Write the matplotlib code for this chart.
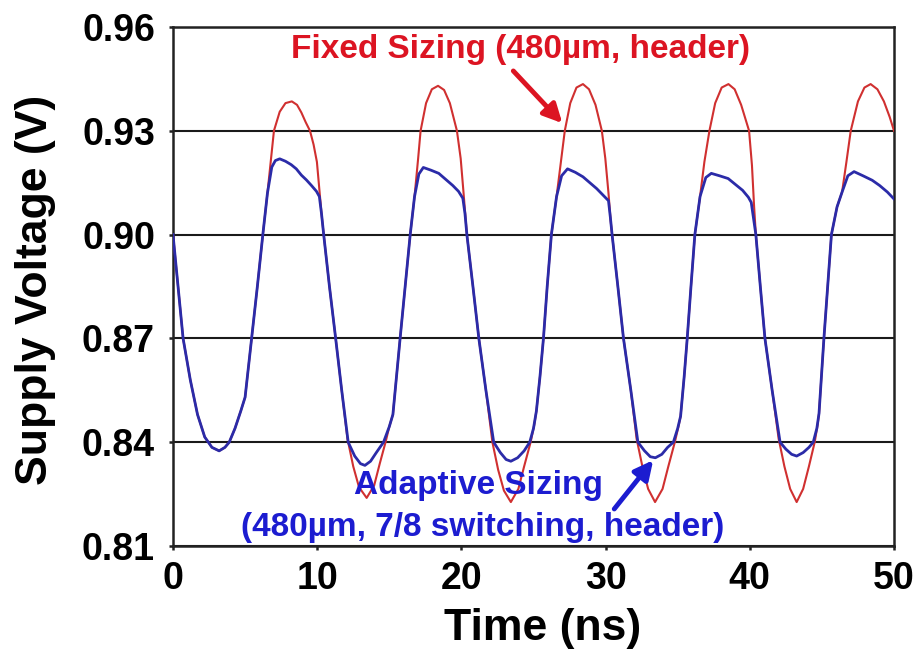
import matplotlib
matplotlib.use("Agg")
import matplotlib.pyplot as plt

# ---- data ----
time_blue = [0.00, 0.35, 0.70, 1.20, 1.70, 2.20, 2.70, 3.20, 3.60, 3.90, 4.30, 4.70, 5.00, 5.45, 5.85, 6.23,
             6.55, 6.85, 7.10, 7.40, 7.80, 8.20, 8.55, 8.90, 9.25, 9.60, 9.95, 10.15, 10.30, 10.45, 10.85,
             11.28, 11.70, 12.15, 12.60, 13.00, 13.31, 13.70, 14.10, 14.60, 15.00, 15.25, 15.50, 15.75,
             16.10, 16.45, 16.75, 17.05, 17.36, 17.90, 18.43, 18.90, 19.40, 19.80, 20.10, 20.25, 20.38,
             20.80, 21.21, 21.70, 22.24, 22.70, 23.10, 23.43, 23.90, 24.35, 24.74, 25.00, 25.20, 25.45,
             25.69, 25.95, 26.24, 26.60, 26.95, 27.36, 27.90, 28.43, 28.90, 29.38, 29.80, 30.20, 30.33,
             30.45, 30.85, 31.24, 31.75, 32.24, 32.70, 33.10, 33.45, 33.90, 34.30, 34.70, 35.00, 35.20,
             35.45, 35.66, 35.92, 36.19, 36.55, 36.95, 37.33, 37.90, 38.50, 39.00, 39.50, 39.90, 40.10,
             40.25, 40.42, 40.73, 41.05, 41.55, 42.10, 42.50, 42.90, 43.25, 43.70, 44.10, 44.40, 44.65,
             44.80, 44.97, 45.14, 45.40, 45.66, 46.05, 46.40, 46.80, 47.23, 47.85, 48.49, 49.00, 49.54,
             50.00]
volt_blue = [0.9000, 0.8850, 0.8700, 0.8580, 0.8480, 0.8415, 0.8385, 0.8375, 0.8385, 0.8400, 0.8440, 0.8490,
             0.8530, 0.8700, 0.8850, 0.9000, 0.9120, 0.9195, 0.9214, 0.9219, 0.9212, 0.9202, 0.9190, 0.9172,
             0.9158, 0.9142, 0.9125, 0.9110, 0.9060, 0.9000, 0.8850, 0.8700, 0.8550, 0.8400, 0.8360, 0.8338,
             0.8333, 0.8345, 0.8370, 0.8400, 0.8445, 0.8480, 0.8590, 0.8700, 0.8850, 0.9000, 0.9110, 0.9175,
             0.9194, 0.9186, 0.9177, 0.9160, 0.9142, 0.9125, 0.9105, 0.9060, 0.9000, 0.8850, 0.8700, 0.8550,
             0.8400, 0.8370, 0.8350, 0.8345, 0.8355, 0.8375, 0.8400, 0.8440, 0.8490, 0.8590, 0.8700, 0.8850,
             0.9000, 0.9110, 0.9170, 0.9190, 0.9180, 0.9167, 0.9150, 0.9133, 0.9115, 0.9098, 0.9050, 0.9000,
             0.8850, 0.8700, 0.8550, 0.8400, 0.8375, 0.8358, 0.8355, 0.8365, 0.8385, 0.8400, 0.8440, 0.8475,
             0.8590, 0.8700, 0.8850, 0.9000, 0.9110, 0.9165, 0.9177, 0.9170, 0.9162, 0.9145, 0.9128, 0.9108,
             0.9093, 0.9050, 0.9000, 0.8850, 0.8700, 0.8550, 0.8400, 0.8380, 0.8365, 0.8360, 0.8370, 0.8385,
             0.8400, 0.8440, 0.8483, 0.8590, 0.8700, 0.8850, 0.9000, 0.9080, 0.9123, 0.9170, 0.9182, 0.9170,
             0.9157, 0.9142, 0.9123, 0.9103]

time_red = [0.00, 0.35, 0.70, 1.20, 1.70, 2.20, 2.70, 3.20, 3.60, 3.90, 4.30, 4.70, 5.00, 5.45, 5.85, 6.23,
            6.55, 6.80, 7.00, 7.40, 7.80, 8.24, 8.60, 8.90, 9.20, 9.50, 9.75, 9.98, 10.15, 10.30, 10.45,
            10.85, 11.28, 11.70, 12.10, 12.50, 12.90, 13.43, 13.95, 14.35, 14.74, 15.00, 15.25, 15.50,
            15.75, 16.10, 16.45, 16.75, 17.00, 17.17, 17.55, 17.95, 18.38, 18.80, 19.20, 19.69, 19.95,
            20.15, 20.30, 20.38, 20.80, 21.21, 21.70, 22.15, 22.55, 22.95, 23.43, 23.95, 24.35, 24.80,
            25.05, 25.20, 25.45, 25.69, 25.95, 26.24, 26.60, 26.90, 27.17, 27.55, 27.98, 28.43, 28.85,
            29.30, 29.74, 29.98, 30.20, 30.35, 30.45, 30.85, 31.24, 31.75, 32.15, 32.55, 32.95, 33.43,
            33.95, 34.35, 34.80, 35.05, 35.20, 35.45, 35.66, 35.92, 36.19, 36.55, 36.85, 37.20, 37.60,
            38.05, 38.52, 38.95, 39.40, 39.95, 40.15, 40.30, 40.42, 40.73, 41.05, 41.55, 42.00, 42.40,
            42.80, 43.25, 43.70, 44.10, 44.50, 44.70, 44.80, 44.97, 45.14, 45.40, 45.66, 46.05, 46.40,
            46.70, 47.00, 47.50, 47.95, 48.38, 48.85, 49.30, 49.70, 50.00]
volt_red = [0.9000, 0.8850, 0.8700, 0.8580, 0.8480, 0.8415, 0.8385, 0.8375, 0.8385, 0.8400, 0.8440, 0.8490,
            0.8530, 0.8700, 0.8850, 0.9000, 0.9120, 0.9220, 0.9300, 0.9355, 0.9380, 0.9385, 0.9375, 0.9353,
            0.9325, 0.9300, 0.9260, 0.9210, 0.9130, 0.9060, 0.9000, 0.8850, 0.8700, 0.8550, 0.8410, 0.8330,
            0.8270, 0.8239, 0.8275, 0.8340, 0.8400, 0.8445, 0.8480, 0.8590, 0.8700, 0.8850, 0.9000, 0.9110,
            0.9220, 0.9300, 0.9380, 0.9420, 0.9430, 0.9418, 0.9380, 0.9300, 0.9220, 0.9120, 0.9040, 0.9000,
            0.8850, 0.8700, 0.8550, 0.8400, 0.8320, 0.8260, 0.8227, 0.8265, 0.8330, 0.8400, 0.8450, 0.8490,
            0.8590, 0.8700, 0.8850, 0.9000, 0.9110, 0.9210, 0.9300, 0.9380, 0.9425, 0.9435, 0.9420, 0.9375,
            0.9300, 0.9220, 0.9120, 0.9040, 0.9000, 0.8850, 0.8700, 0.8550, 0.8410, 0.8330, 0.8265, 0.8227,
            0.8265, 0.8330, 0.8400, 0.8445, 0.8475, 0.8590, 0.8700, 0.8850, 0.9000, 0.9110, 0.9210, 0.9300,
            0.9380, 0.9425, 0.9435, 0.9420, 0.9375, 0.9300, 0.9200, 0.9080, 0.9000, 0.8850, 0.8700, 0.8550,
            0.8410, 0.8330, 0.8265, 0.8227, 0.8265, 0.8330, 0.8400, 0.8450, 0.8483, 0.8590, 0.8700, 0.8850,
            0.9000, 0.9080, 0.9123, 0.9210, 0.9300, 0.9385, 0.9425, 0.9435, 0.9420, 0.9385, 0.9340, 0.9300]

x_ticks = [0, 10, 20, 30, 40, 50]
y_ticks = [0.81, 0.84, 0.87, 0.90, 0.93, 0.96]
y_tick_labels = ["0.81", "0.84", "0.87", "0.90", "0.93", "0.96"]

label_fixed = "Fixed Sizing (480µm, header)"
label_adaptive_1 = "Adaptive Sizing"
label_adaptive_2 = "(480µm, 7/8 switching, header)"

# ---- styling ----
plt.rcParams['font.family'] = ['Liberation Sans', 'DejaVu Sans']
plt.rcParams['font.weight'] = 'bold'

RED_LINE = '#d03030'
BLUE_LINE = '#2b2ba8'
RED_TEXT = '#dc1422'
BLUE_TEXT = '#1c1cd0'

fig = plt.figure(figsize=(9.24, 6.56), dpi=100)
ax = fig.add_axes([173 / 924, 1 - 546 / 656, (894 - 173) / 924, (546 - 27) / 656])

ax.plot(time_red, volt_red, color=RED_LINE, lw=1.5, zorder=3)
ax.plot(time_blue, volt_blue, color=BLUE_LINE, lw=2.0, zorder=4)

ax.set_xlim(0, 50)
ax.set_ylim(0.81, 0.96)
ax.set_xticks(x_ticks)
ax.set_yticks(y_ticks)
ax.set_yticklabels(y_tick_labels)

for s in ax.spines.values():
    s.set_linewidth(1.8)
    s.set_color('#222222')

ax.yaxis.grid(True, color='#1a1a1a', lw=1.5)
ax.set_axisbelow(True)
ax.tick_params(axis='both', direction='out', length=3, width=1.8, labelsize=27, color='#222222')
ax.tick_params(axis='y', pad=10)
ax.tick_params(axis='x', pad=8)
for lab in ax.get_xticklabels() + ax.get_yticklabels():
    lab.set_fontweight('bold')

ax.set_xlabel("Time (ns)", fontsize=32, fontweight='bold')
ax.xaxis.set_label_coords(0.513, -0.158)
ax.xaxis.label.set_va('center')
ax.set_ylabel("Supply Voltage (V)", fontsize=32, fontweight='bold')
ax.yaxis.set_label_coords(-0.191, 0.493)
ax.yaxis.label.set_va('center')

# annotations
ax.text(24.1, 0.9534, label_fixed, color=RED_TEXT, fontsize=24, fontweight='bold',
        ha='center', va='center', zorder=6)
ax.annotate("", xy=(27.0, 0.9322), xytext=(23.6, 0.9473),
            arrowprops=dict(arrowstyle='-|>', color=RED_TEXT, lw=3.5, mutation_scale=28,
                            shrinkA=0, shrinkB=0), zorder=6)

ax.text(21.2, 0.8275, label_adaptive_1, color=BLUE_TEXT, fontsize=24, fontweight='bold',
        ha='center', va='center', zorder=6)
ax.text(21.5, 0.8154, label_adaptive_2, color=BLUE_TEXT, fontsize=24, fontweight='bold',
        ha='center', va='center', zorder=6)
ax.annotate("", xy=(33.3, 0.8348), xytext=(30.6, 0.8207),
            arrowprops=dict(arrowstyle='-|>', color=BLUE_TEXT, lw=3.5, mutation_scale=28,
                            shrinkA=0, shrinkB=0), zorder=6)

fig.savefig("out.png", dpi=100)
